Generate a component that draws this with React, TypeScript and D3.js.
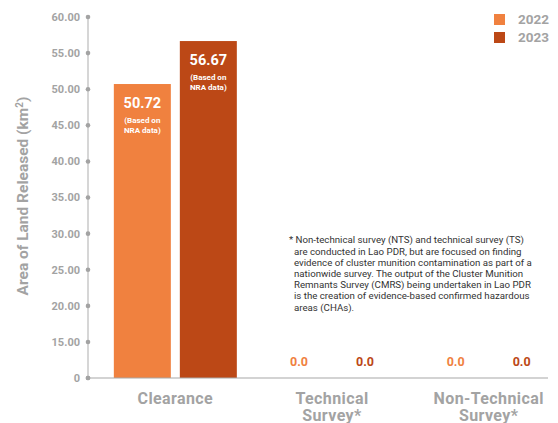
import React from "react";
import * as d3 from "d3";

const categories = ["Clearance", "Technical Survey*", "Non-Technical Survey*"];
const categoryLines = [["Clearance"], ["Technical", "Survey*"], ["Non-Technical", "Survey*"]];
const years = ["2022", "2023"];
const values2022 = [50.72, 0, 0];
const values2023 = [56.67, 0, 0];
const valueLabels2022 = ["50.72", "0.0", "0.0"];
const valueLabels2023 = ["56.67", "0.0", "0.0"];
const yTicks = [0, 15, 20, 25, 30, 35, 40, 45, 50, 55, 60];
const yTickLabels = ["0", "15.00", "20.00", "25.00", "30.00", "35.00", "40.00", "45.00", "50.00", "55.00", "60.00"];
const footnote = [
  "* Non-technical survey (NTS) and technical survey (TS)",
  "are conducted in Lao PDR, but are focused on finding",
  "evidence of cluster munition contamination as part of a",
  "nationwide survey. The output of the Cluster Munition",
  "Remnants Survey (CMRS) being undertaken in Lao PDR",
  "is the creation of evidence-based confirmed hazardous",
  "areas (CHAs).",
];

const COLORS = ["#F0813F", "#BC4816"];
const GRAY = "#A3A3A3";
const FONT = "Roboto, 'Noto Sans', sans-serif";

export default function App() {
  const W = 558, H = 423;
  const axisX = 88;
  const y = d3.scaleLinear().domain([0, 15, 60]).range([378, 342, 17]);
  const x0 = d3.scaleBand().domain(categories).range([97, 567]);
  const groupW = 123;
  const x1 = d3.scaleBand().domain(years).range([0, groupW]).paddingInner(9 / 66);
  const series = [values2022, values2023];
  const labels = [valueLabels2022, valueLabels2023];

  return (
    <svg width={W} height={H} style={{ position: "absolute", left: 0, top: 0, background: "#fff" }} fontFamily={FONT}>
      {/* y axis */}
      <line x1={axisX} x2={axisX} y1={y(60)} y2={y(0)} stroke="#C8C8C8" strokeWidth={1.5} />
      {yTicks.map((t, i) => (
        <g key={t}>
          <circle cx={axisX} cy={y(t)} r={2.3} fill={GRAY} />
          <text x={axisX - 8} y={y(t)} dy="0.35em" textAnchor="end" fontSize={11} fontWeight={700} fill={GRAY}>
            {yTickLabels[i]}
          </text>
        </g>
      ))}
      <text
        transform={`translate(23, 196) rotate(-90)`}
        textAnchor="middle"
        dy="0.35em"
        fontSize={15.5}
        fontWeight={700}
        fill={GRAY}
      >
        Area of Land Released (km<tspan dy="-5" fontSize={10}>2</tspan><tspan dy="5">)</tspan>
      </text>

      {/* bars */}
      {categories.map((c, ci) => {
        const gx = (x0(c) as number) + (x0.bandwidth() - groupW) / 2;
        return (
          <g key={c}>
            {years.map((yr, si) => {
              const v = series[si][ci];
              const bx = gx + (x1(yr) as number);
              const bw = x1.bandwidth();
              const top = y(v);
              const cx = bx + bw / 2;
              if (v > 0) {
                return (
                  <g key={yr}>
                    <rect x={bx} y={top} width={bw} height={y(0) - top} fill={COLORS[si]} />
                    <text x={cx} y={top + 19} dy="0.35em" textAnchor="middle" fontSize={14.5} fontWeight={700} fill="#fff">
                      {labels[si][ci]}
                    </text>
                    <text x={cx} y={top + 36} dy="0.35em" textAnchor="middle" fontSize={8} fontWeight={700} fill="#fff">
                      (Based on
                    </text>
                    <text x={cx} y={top + 46.5} dy="0.35em" textAnchor="middle" fontSize={8} fontWeight={700} fill="#fff">
                      NRA data)
                    </text>
                  </g>
                );
              }
              return (
                <text key={yr} x={cx} y={362} dy="0.35em" textAnchor="middle" fontSize={12.5} fontWeight={700} fill={COLORS[si]}>
                  {labels[si][ci]}
                </text>
              );
            })}
            {categoryLines[ci].map((ln, li) => (
              <text key={li} x={(x0(c) as number) + x0.bandwidth() / 2} y={398 + li * 17} dy="0.35em" textAnchor="middle" fontSize={16} letterSpacing={0.4} fontWeight={700} fill={GRAY}>
                {ln}
              </text>
            ))}
          </g>
        );
      })}
      {/* baseline */}
      <line x1={axisX} x2={548} y1={y(0)} y2={y(0)} stroke="#A8A8A8" strokeWidth={1.2} />
      <circle cx={axisX} cy={y(0)} r={2.3} fill={GRAY} />

      {/* legend */}
      {years.map((yr, i) => (
        <g key={yr}>
          <rect x={494} y={14 + i * 18} width={11} height={11} fill={COLORS[i]} />
          <text x={518} y={19.5 + i * 18} dy="0.35em" fontSize={13.5} fontWeight={700} fill={GRAY}>
            {yr}
          </text>
        </g>
      ))}

      {/* footnote */}
      {footnote.map((ln, i) => (
        <text key={i} x={i === 0 ? 289 : 294} y={240 + i * 11.2} dy="0.35em" fontSize={9.7} fill="#333">
          {ln}
        </text>
      ))}
    </svg>
  );
}
